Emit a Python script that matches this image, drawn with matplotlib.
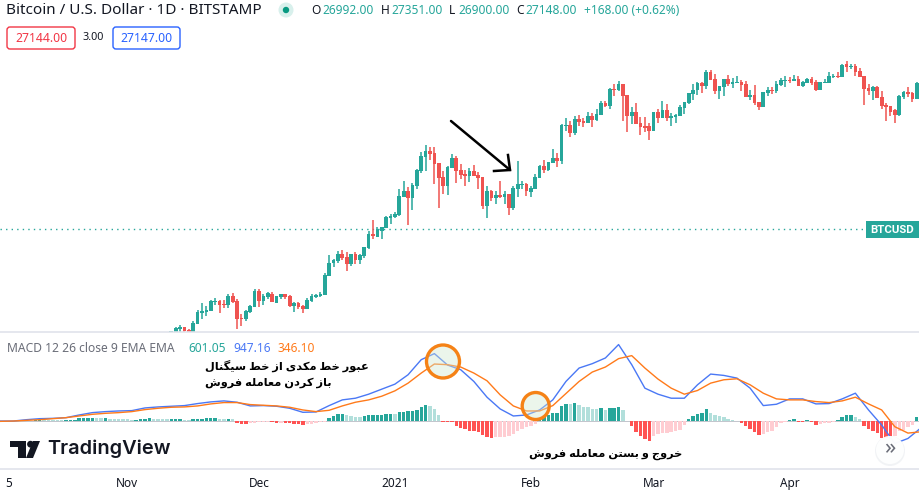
import matplotlib
matplotlib.use("Agg")
import matplotlib.pyplot as plt
import matplotlib.dates as mdates
from matplotlib.patches import Circle, FancyBboxPatch, Polygon, Rectangle
import pandas as pd

GREEN = "#26a69a"
RED = "#ef5350"
BLUE = "#4a78f5"
ORANGE = "#ff7a1a"
INK = "#131722"
GREY = "#6a6d78"
RULE = "#e0e3eb"

# daily candles from 2020-11-11
opens = [
    16000, 16000, 16250, 16420, 16170, 16000, 16670, 17640, 17740, 17830,
    18670, 18770, 18480, 18380, 19260, 18770, 17200, 17110, 17740, 18200,
    19760, 18770, 19160, 19460, 18570, 19160, 19460, 19260, 18290, 18570,
    18290, 18010, 18770, 19160, 19260, 19360, 21340, 22800, 23040, 23880,
    23520, 22690, 23880, 23160, 23640, 24620, 26460, 26060, 26870, 27300,
    28730, 28880, 29180, 31990, 32990, 31820, 33840, 36550, 39270, 40500,
    40090, 38080, 35440, 33840, 37120, 39070, 36730, 35990, 35620, 36550,
    35800, 35440, 30540, 32990, 31820, 32320, 31990, 32480, 30230, 33330,
    34010, 34190, 32820, 33330, 35260, 37500, 36730, 38080, 39070, 38480,
    46030, 46270, 44410, 47720, 47230, 46750, 48460, 47480, 48710, 51810,
    51020, 55670, 55380, 57110, 53980, 48460, 49460, 46750, 46030, 46030,
    44870, 49460, 47960, 49970, 47960, 48210, 48460, 50490, 51810, 54260,
    55380, 57400, 56530, 60740, 58600, 55100, 56240, 58600, 57110, 57400,
    57700, 57110, 53430, 53980, 52070, 50750, 54540, 55380, 55100, 56820,
    58000, 58290, 58000, 58600, 56530, 57400, 58600, 57700, 55380, 57400,
    57400, 59200, 59500, 59200, 63280, 62310, 62630, 61050, 59500, 55950,
    55100, 56240, 53430, 51280, 51020, 49970, 48710, 53430, 54820, 54540, 52880,
]
highs = [
    16090, 16420, 16590, 16420, 16250, 16930, 17920, 18570, 18290, 18860,
    19060, 18860, 18860, 19460, 19560, 18960, 17550, 17920, 18380, 19960,
    19960, 19460, 19660, 19660, 19260, 19460, 19460, 19360, 18670, 18670,
    18380, 19060, 19460, 19460, 19660, 21670, 23760, 23280, 24250, 24370,
    24120, 23880, 24120, 23880, 24750, 26870, 28430, 27440, 27440, 29030,
    29330, 29630, 33330, 34720, 33670, 34360, 36930, 40290, 41760, 41340,
    41340, 38080, 36550, 37500, 39880, 39480, 37890, 36730, 37120, 37700,
    36360, 35440, 33840, 33160, 32990, 34720, 32990, 32480, 33840, 38480,
    34720, 34360, 33840, 35990, 37700, 38670, 38280, 40920, 40090, 46510,
    47960, 47230, 48460, 48710, 47960, 49460, 49210, 50230, 52340, 52340,
    55950, 57110, 58000, 57110, 53980, 50750, 51810, 48210, 48210, 46750,
    49460, 50230, 52340, 51540, 49210, 48960, 51280, 52070, 54540, 57110,
    57700, 57700, 61360, 61360, 60120, 56530, 58600, 59810, 58900, 59500,
    58290, 58000, 55380, 56820, 52070, 54820, 56240, 56240, 58000, 58900,
    59500, 59200, 59810, 59500, 58000, 58900, 59200, 58290, 57700, 58600,
    60740, 60120, 60740, 63280, 64260, 63280, 63280, 62000, 59500, 57110,
    56530, 56530, 55100, 51810, 51020, 50230, 53980, 55100, 56240, 54820, 57700,
]
lows = [
    16000, 15900, 16000, 16000, 16000, 15950, 16670, 17110, 17370, 17830,
    18380, 17640, 18100, 18100, 18570, 16250, 16500, 16930, 17640, 18200,
    18200, 18380, 18960, 18670, 18570, 18960, 18960, 18200, 17740, 18010,
    17640, 18010, 18670, 19060, 19160, 19360, 21340, 22340, 22800, 23160,
    21890, 22460, 22690, 22690, 23400, 24500, 25790, 26060, 25790, 27300,
    27860, 28730, 29030, 31990, 27720, 29930, 33330, 36170, 36550, 38670,
    34190, 30230, 32480, 32320, 37120, 34360, 35080, 33840, 34540, 35620,
    33330, 30080, 28730, 31340, 30860, 31820, 30860, 29180, 29930, 31990,
    33330, 32150, 31990, 33330, 35260, 36170, 36550, 38080, 37310, 37890,
    44870, 43510, 43960, 46030, 45800, 46750, 45800, 47230, 48710, 50750,
    50230, 53700, 55100, 47230, 44640, 46510, 46510, 43960, 44640, 42850,
    44870, 46750, 47960, 47230, 46030, 46750, 48460, 48960, 51540, 52610,
    53980, 54540, 55670, 58290, 54260, 52880, 53700, 56530, 55950, 57400,
    55100, 53430, 52610, 51280, 49970, 50750, 53700, 54260, 54540, 56530,
    56240, 57400, 58000, 56530, 56240, 57400, 56820, 55100, 55380, 57400,
    57400, 58900, 58900, 59200, 60740, 61680, 59500, 59200, 51280, 53980,
    52610, 53150, 50230, 47230, 48460, 46750, 48460, 52880, 53430, 52070, 52880,
]
closes = [
    16090, 16340, 16420, 16090, 16000, 16760, 17740, 17830, 17920, 18770,
    18770, 18380, 18380, 19260, 18670, 17110, 17110, 17830, 18290, 19760,
    18770, 19260, 19560, 18670, 19260, 19460, 19160, 18290, 18570, 18200,
    18010, 18860, 19260, 19360, 19460, 21450, 22800, 23160, 23880, 23400,
    22690, 23880, 23160, 23760, 24750, 26460, 26190, 27150, 27440, 28880,
    29030, 29330, 32150, 32990, 31820, 34010, 36730, 39480, 40500, 39880,
    37890, 35260, 33840, 37310, 39070, 36550, 35800, 35620, 36550, 35620,
    35260, 30540, 32990, 31820, 32320, 31990, 32480, 30230, 33500, 34190,
    34190, 32990, 33500, 35440, 37500, 36730, 38280, 39070, 38480, 46270,
    46270, 44410, 47720, 46990, 46750, 48460, 47480, 48960, 51810, 51020,
    55670, 55380, 57110, 53700, 48460, 49460, 46510, 45800, 45560, 44870,
    49460, 47960, 49970, 47960, 48460, 48710, 50750, 52070, 54540, 55380,
    57400, 56530, 60740, 58290, 55100, 56530, 58600, 57110, 57700, 57700,
    56820, 53430, 53980, 51810, 50750, 54820, 55380, 55100, 57110, 58290,
    58290, 58000, 58600, 56530, 57700, 58600, 57400, 55380, 57700, 57700,
    59500, 59500, 59200, 62960, 62310, 62630, 60740, 59200, 55670, 55100,
    56240, 53150, 51020, 50750, 49460, 48710, 53700, 54820, 54260, 52880, 57400,
]
last_price = 27148

# MACD and signal, read every third day from 2020-10-03
macd_line = [
    23, 23, 117, 186, 210, 256, 443, 606, 676, 722, 746, 932,
    1002, 1049, 1095, 1235, 1351, 1421, 1328, 1072, 1095, 1049, 909, 629,
    652, 1095, 1491, 1608, 1887, 2237, 2586, 3239, 4287, 4707, 3914, 3588,
    2773, 1678, 862, 373, 443, 792, 1491, 2773, 3705, 4008, 4404, 5336,
    3938, 2307, 1887, 1608, 1608, 2540, 3285, 3192, 3006, 2307, 1095, 1188,
    1561, 1561, 1212, 1235, 1561, 1957, 792, -256, -1538, -1188, -443,
]
signal_line = [
    0, 23, 70, 117, 186, 256, 373, 489, 559, 606, 676, 816,
    909, 979, 1002, 1072, 1212, 1305, 1305, 1165, 1118, 1072, 979, 792,
    676, 769, 1072, 1328, 1491, 1748, 2120, 2656, 3355, 3984, 3938, 3775,
    3355, 2819, 1841, 1072, 722, 722, 1095, 1934, 2773, 3425, 3775, 4357,
    4567, 3705, 2936, 2307, 1887, 2144, 2656, 2889, 2959, 2540, 1957, 1561,
    1491, 1491, 1375, 1305, 1421, 1678, 1212, 792, -373, -816, -722,
]
# histogram, one bar per day from 2020-10-03
histogram = [
    20, 22, 24, 26, 28, 40, 45, 50, 70, 75,
    72, 68, 66, 64, 62, 68, 72, 95, 210, 235,
    255, 258, 235, 210, 235, 145, 142, 140, 138, 135,
    95, 100, 140, 145, 235, 165, 150, 145, 140, 145,
    150, 155, 95, 70, 140, 145, 185, 230, 235, 240,
    190, 165, 170, 140, -140, -160, -165, -115, -90, -50,
    -45, -40, -70, -115, -95, -100, -140, -185, -210, -235,
    -210, -165, -115, -70, -25, 235, 350, 490, 515, 465,
    375, 330, 325, 375, 420, 465, 470, 475, 515, 535,
    515, 630, 680, 690, 700, 770, 1000, 1145, 1075, 885,
    465, -25, -50, -70, -300,
    -465, -515, -650, -700, -770, -980, -1095, -1165, -1100, -1095,
    -1070, -1050, -885, -650, -515, -420, -305, -185, 185, 280,
    420, 560, 570, 1050, 1240, 1235, 1260, 1165, 1030, 1025,
    885, 840, 930, 815, 955, 960, 1025, 770, 45, -325,
    -745, -1050, -1210, -1350, -1050, -860, -815, -810, -770, -700,
    -580, -235, 140, 370, 515, 580, 840, 560, 465, 375,
    280, 140, 70, 25, -140, -350, -515, -770, -935, -885,
    -770, -650, -395, -115, -45, 70, 185, -45, -50, 115,
    -25, -235, -185, -115, -95, -45, 115, 325, 440, 445,
    305, 140, -325, -560, -650, -815, -1165, -1170, -1210, -1050,
    -700, -580, -395, -235, 300,
]

tick_dates = ["2020-10-05", "2020-11-01", "2020-12-01", "2021-01-01",
              "2021-02-01", "2021-03-01", "2021-04-01"]
tick_labels = ["5", "Nov", "Dec", "2021", "Feb", "Mar", "Apr"]

FA_LINE_1 = "عبور خط مکدی از خط سیگنال"
FA_LINE_2 = "باز کردن معامله فروش"
FA_LINE_3 = "خروج و بستن معامله فروش"

# isolated, final, initial, medial
FA_FORMS = {
    "ا": "\uFE8D\uFE8E", "ب": "\uFE8F\uFE90\uFE91\uFE92", "ت": "\uFE95\uFE96\uFE97\uFE98",
    "ج": "\uFE9D\uFE9E\uFE9F\uFEA0", "خ": "\uFEA5\uFEA6\uFEA7\uFEA8", "د": "\uFEA9\uFEAA",
    "ر": "\uFEAD\uFEAE", "ز": "\uFEAF\uFEB0", "س": "\uFEB1\uFEB2\uFEB3\uFEB4",
    "ش": "\uFEB5\uFEB6\uFEB7\uFEB8", "ط": "\uFEC1\uFEC2\uFEC3\uFEC4", "ع": "\uFEC9\uFECA\uFECB\uFECC",
    "ف": "\uFED1\uFED2\uFED3\uFED4", "ل": "\uFEDD\uFEDE\uFEDF\uFEE0", "م": "\uFEE1\uFEE2\uFEE3\uFEE4",
    "ن": "\uFEE5\uFEE6\uFEE7\uFEE8", "ه": "\uFEE9\uFEEA\uFEEB\uFEEC", "و": "\uFEED\uFEEE",
    "ک": "\uFB8E\uFB8F\uFB90\uFB91", "گ": "\uFB92\uFB93\uFB94\uFB95", "ی": "\uFBFC\uFBFD\uFBFE\uFBFF",
}


def shape_fa(text):
    """matplotlib does no Arabic shaping, so pick the joined forms and reverse"""
    out = []
    for i, ch in enumerate(text):
        if ch not in FA_FORMS:
            out.append(ch)
            continue
        prev = text[i - 1] if i > 0 else " "
        nxt = text[i + 1] if i + 1 < len(text) else " "
        joins_prev = prev in FA_FORMS and len(FA_FORMS[prev]) == 4
        joins_next = nxt in FA_FORMS and len(FA_FORMS[ch]) == 4
        form = FA_FORMS[ch]
        if joins_prev and joins_next:
            out.append(form[3])
        elif joins_next:
            out.append(form[2])
        elif joins_prev:
            out.append(form[1])
        else:
            out.append(form[0])
    return "".join(reversed(out))


plt.rcParams["font.family"] = ["Noto Sans", "DejaVu Sans"]

candle_dates = pd.date_range("2020-11-11", periods=len(closes), freq="D")
macd_dates = pd.date_range("2020-10-03", periods=len(macd_line), freq="3D")
hist_dates = pd.date_range("2020-10-03", periods=len(histogram), freq="D")

W, H = 920, 497
PANE_BOTTOM, MACD_BOTTOM = 332, 469
day0 = mdates.date2num(candle_dates[0])
xlim = (day0 - 39.06, day0 + 170.74)

fig = plt.figure(figsize=(W / 100, H / 100), dpi=100, facecolor="white")

# price pane, log scale
ax = fig.add_axes([0, 1 - PANE_BOTTOM / H, 1, PANE_BOTTOM / H])
ax.set_yscale("log")
ax.set_xlim(xlim)
ax.set_ylim(16006, 87860)
ax.axis("off")
ax.axhline(last_price, color=GREEN, lw=1, ls=(0, (1, 3)), zorder=1)
for d, o, h, l, c in zip(candle_dates, opens, highs, lows, closes):
    col = GREEN if c >= o else RED
    ax.vlines(d, l, h, color=col, lw=1.1, zorder=2)
    ax.bar(d, abs(c - o), bottom=min(o, c), width=0.84, color=col, lw=0, zorder=3)

# MACD pane
ax2 = fig.add_axes([0, 1 - MACD_BOTTOM / H, 1, (MACD_BOTTOM - PANE_BOTTOM) / H])
ax2.set_xlim(xlim)
ax2.set_ylim(-3311, 6209)
ax2.set_yticks([])
for side in ["left", "right"]:
    ax2.spines[side].set_visible(False)
for side in ["top", "bottom"]:
    ax2.spines[side].set_color(RULE)
    ax2.spines[side].set_linewidth(1.2)
ax2.axhline(0, color="#b8bbc4", lw=0.6, zorder=1)

prev = 0
bar_colors = []
for v in histogram:
    if v >= 0:
        bar_colors.append(GREEN if v >= prev else "#b2dfdb")
    else:
        bar_colors.append("#ff5252" if v < prev else "#ffcdd2")
    prev = v
ax2.bar(hist_dates, histogram, width=0.78, color=bar_colors, lw=0, zorder=2)
ax2.plot(macd_dates, macd_line, color=BLUE, lw=1.0, zorder=4)
ax2.plot(macd_dates, signal_line, color=ORANGE, lw=1.0, zorder=4)

ax2.set_xticks(mdates.date2num(pd.to_datetime(tick_dates)))
ax2.set_xticklabels(tick_labels, fontsize=8.5, color=INK)
ax2.tick_params(axis="x", length=0, pad=6)
ax2.get_xticklabels()[3].set_fontweight("bold")

# overlay in image pixels for the chart furniture
ov = fig.add_axes([0, 0, 1, 1], facecolor="none")
ov.set_xlim(0, W)
ov.set_ylim(H, 0)
ov.axis("off")

ov.text(6, 10, "Bitcoin / U.S. Dollar · 1D · BITSTAMP", fontsize=11, color=INK, va="center")
ov.add_patch(Circle((286, 10), 7.5, fc="#d8f0ec", ec="none"))
ov.add_patch(Circle((286, 10), 3.2, fc="#089981", ec="none"))

ohlc = [(311, "O", INK), (322, "26992.00", GREEN), (381, "H", INK), (391, "27351.00", GREEN),
        (449, "L", INK), (458, "26900.00", GREEN), (516, "C", INK), (525, "27148.00", GREEN),
        (584, "+168.00 (+0.62%)", GREEN)]
for x, s, col in ohlc:
    ov.text(x, 11, s, fontsize=8.6, color=col, va="center")

ov.add_patch(FancyBboxPatch((7, 27), 68, 22, boxstyle="round,pad=0,rounding_size=3", fc="white", ec="#f23645", lw=1))
ov.text(41, 38, "27144.00", fontsize=8.8, color="#f23645", ha="center", va="center")
ov.text(93, 38, "3.00", fontsize=7.8, color=INK, ha="center", va="center")
ov.add_patch(FancyBboxPatch((113, 27), 67, 22, boxstyle="round,pad=0,rounding_size=3", fc="white", ec="#2962ff", lw=1))
ov.text(146.5, 38, "27147.00", fontsize=8.8, color="#2962ff", ha="center", va="center")

ov.add_patch(Rectangle((866, 221), 53, 17, fc=GREEN, ec="none"))
ov.text(892.5, 229.8, "BTCUSD", fontsize=8.2, fontweight="bold", family=["Roboto", "DejaVu Sans"],
        color="white", ha="center", va="center")

ov.plot([451, 510], [121, 170], color="black", lw=1.8, solid_capstyle="round")
ov.plot([494, 510, 508], [171, 170, 155], color="black", lw=1.8, solid_joinstyle="miter")

ov.text(7, 349, "MACD 12 26 close 9 EMA EMA", fontsize=8.7, color=GREY, va="center")
for x, s, col in [(188, "601.05", GREEN), (233, "947.16", BLUE), (278, "346.10", ORANGE)]:
    ov.text(x, 349, s, fontsize=8.6, color=col, va="center")

for center, r in [((443, 361.5), 16.5), ((535.7, 406), 13.5)]:
    ov.add_patch(Circle(center, r, fc=(0.82, 0.91, 0.82, 0.42), ec="#f58216", lw=2.4))

ov.text(205, 367, shape_fa(FA_LINE_1), fontsize=8.2, fontweight="bold", color="black", va="center")
ov.text(205, 383, shape_fa(FA_LINE_2), fontsize=8.2, fontweight="bold", color="black", va="center")
ov.text(529, 454, shape_fa(FA_LINE_3), fontsize=8.2, fontweight="bold", color="black", va="center")

# logo
ov.add_patch(Polygon([(10, 441), (26, 441), (26, 458), (18, 458), (18, 447), (10, 447)], fc=INK, ec="none"))
ov.add_patch(Circle((30.5, 444.2), 3.4, fc=INK, ec="none"))
ov.add_patch(Polygon([(33, 441), (40, 441), (33, 458), (26, 458)], fc=INK, ec="none"))
ov.text(47, 448.5, "TradingView", fontsize=14.4, fontweight="semibold", family=["Inter", "DejaVu Sans"],
        color=INK, va="center")

# scroll button
ov.add_patch(Circle((890, 451), 15, fc="#eceef2", ec="none", alpha=0.7))
ov.add_patch(Circle((890, 450), 14, fc="white", ec="none", alpha=0.92))
ov.text(890, 448.5, "»", fontsize=16, fontweight="bold", color=GREY, ha="center", va="center")

fig.savefig("out.png", dpi=100)
